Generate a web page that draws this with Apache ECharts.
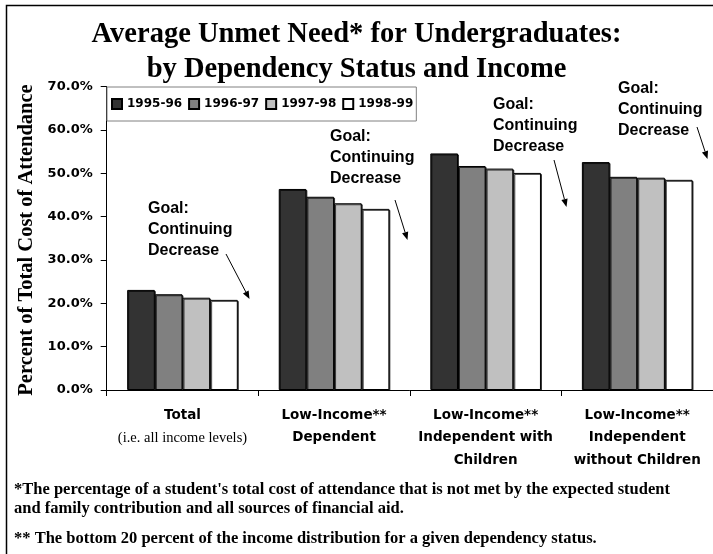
<!DOCTYPE html>
<html>
<head>
<meta charset="utf-8">
<script src="https://cdn.jsdelivr.net/npm/echarts@6/dist/echarts.min.js"></script>
<style>
  html, body { margin: 0; padding: 0; background: #fff; }
  #chart { width: 713px; height: 554px; }
</style>
</head>
<body>
<div id="chart"></div>
<script>
// Groups along the x axis (second line of "Total" is a note in serif type)
var categories = [
  'Total\n(i.e. all income levels)',
  'Low-Income**\nDependent',
  'Low-Income**\nIndependent with\nChildren',
  'Low-Income**\nIndependent\nwithout Children'
];

// Award years
var years = ['1995-96', '1996-97', '1997-98', '1998-99'];

// Average unmet need, percent of total cost of attendance
var need1995 = [23.1, 46.4, 54.6, 52.6];
var need1996 = [22.1, 44.6, 51.7, 49.2];
var need1997 = [21.3, 43.1, 51.1, 49.0];
var need1998 = [20.8, 41.8, 50.1, 48.5];

// Value axis ticks
var yMin = 0, yMax = 70, yStep = 10;

var barColors = ['#333333', '#808080', '#c0c0c0', '#ffffff'];
var yearValues = [need1995, need1996, need1997, need1998];

var SANS = '"DejaVu Sans", sans-serif';
var ARIAL = '"Liberation Sans", Arial, sans-serif';
var SERIF = '"Liberation Serif", "Times New Roman", serif';

var chart = echarts.init(document.getElementById('chart'), null, { renderer: 'canvas' });

var series = years.map(function (y, i) {
  return {
    name: y,
    type: 'bar',
    data: yearValues[i],
    barGap: '0%',
    barCategoryGap: '27%',
    itemStyle: {
      color: barColors[i],
      borderColor: '#000',
      borderWidth: 1,
      shadowColor: 'rgba(0,0,0,0.7)',
      shadowOffsetX: 1,
      shadowOffsetY: 1,
      shadowBlur: 0
    },
    emphasis: { disabled: true },
    animation: false
  };
});

// Arrow made of a shaft and a filled head
function arrow(x1, y1, x2, y2) {
  var ang = Math.atan2(y2 - y1, x2 - x1);
  var len = 8, half = 3.2;
  var bx = x2 - len * Math.cos(ang), by = y2 - len * Math.sin(ang);
  var px = -Math.sin(ang) * half, py = Math.cos(ang) * half;
  return [
    { type: 'line', shape: { x1: x1, y1: y1, x2: bx, y2: by }, style: { stroke: '#000', lineWidth: 1 } },
    { type: 'polygon', shape: { points: [[x2, y2], [bx + px, by + py], [bx - px, by - py]] }, style: { fill: '#000' } }
  ];
}

function goalNote(x, y) {
  return {
    type: 'text', left: x, top: y,
    style: {
      text: 'Goal:\nContinuing\nDecrease',
      font: 'bold 16px ' + ARIAL,
      lineHeight: 21,
      fill: '#000'
    }
  };
}

function footnote(y, text) {
  return { type: 'text', left: 14, top: y, style: { text: text, font: 'bold 16.5px ' + SERIF, fill: '#000' } };
}

var graphics = [
  // outer frame (open to the right and bottom)
  { type: 'polyline', shape: { points: [[6.5, 600], [6.5, 5.5], [800, 5.5]] }, style: { fill: 'none', stroke: '#000', lineWidth: 1.5 } },
  // value axis title
  {
    type: 'text', x: 27, y: 240, rotation: Math.PI / 2,
    style: {
      text: 'Percent of Total Cost of Attendance',
      font: 'bold 20.5px ' + SERIF,
      align: 'center', verticalAlign: 'middle', fill: '#000'
    }
  },
  goalNote(148, 198),
  goalNote(330, 126),
  goalNote(493, 94),
  goalNote(618, 78),
  footnote(481, "*The percentage of a student's total cost of attendance that is not met by the expected student"),
  footnote(500, 'and family contribution and all sources of financial aid.'),
  footnote(530, '** The bottom 20 percent of the income distribution for a given dependency status.')
].concat(arrow(226, 254, 249.5, 299))
 .concat(arrow(395, 200, 407.5, 240))
 .concat(arrow(554, 160, 566.5, 207))
 .concat(arrow(697, 127, 707.5, 159));

chart.setOption({
  backgroundColor: '#fff',
  animation: false,
  title: {
    text: 'Average Unmet Need* for Undergraduates:\nby Dependency Status and Income',
    left: 'center',
    top: 12,
    textStyle: {
      fontFamily: SERIF,
      fontSize: 28.5,
      fontWeight: 'bold',
      color: '#000',
      lineHeight: 35
    }
  },
  legend: {
    data: years,
    left: 107,
    top: 87,
    orient: 'horizontal',
    itemWidth: 10,
    itemHeight: 10,
    itemGap: 6,
    padding: [11, 3, 11, 4],
    borderColor: '#808080',
    borderWidth: 1,
    backgroundColor: '#fff',
    icon: 'rect',
    selectedMode: false,
    textStyle: { fontFamily: SANS, fontWeight: 'bold', fontSize: 12, color: '#000' }
  },
  grid: { left: 106.7, right: -7, top: 86.7, bottom: 164, containLabel: false },
  xAxis: {
    type: 'category',
    data: categories,
    axisLine: { lineStyle: { color: '#000', width: 1 } },
    axisTick: { show: true, alignWithLabel: false, length: 6, lineStyle: { color: '#000' } },
    axisLabel: {
      interval: 0,
      margin: 14,
      color: '#000',
      formatter: function (v) {
        return v.split('\n').map(function (line) {
          return (line.charAt(0) === '(' ? '{s|' : '{b|') + line + '}';
        }).join('\n');
      },
      rich: {
        b: { fontFamily: SANS, fontWeight: 'bold', fontSize: 13.5, lineHeight: 22.5, color: '#000' },
        s: { fontFamily: SERIF, fontWeight: 'normal', fontSize: 14.5, lineHeight: 22.5, color: '#000' }
      }
    }
  },
  yAxis: {
    type: 'value',
    min: yMin,
    max: yMax,
    interval: yStep,
    axisLine: { show: true, lineStyle: { color: '#000', width: 1 } },
    axisTick: { show: true, length: 6, lineStyle: { color: '#000' } },
    splitLine: { show: false },
    axisLabel: {
      margin: 14,
      color: '#000',
      fontFamily: SANS,
      fontWeight: 'bold',
      fontSize: 13,
      formatter: function (v) { return v.toFixed(1) + '%'; }
    }
  },
  series: series,
  graphic: graphics
});
</script>
</body>
</html>
